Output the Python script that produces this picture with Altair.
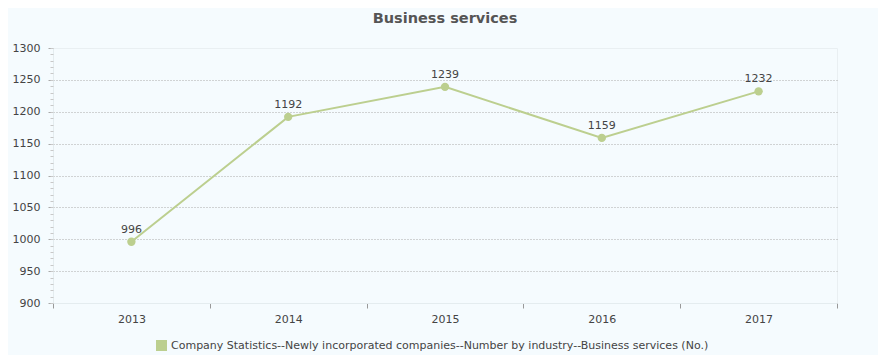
import altair as alt
import pandas as pd

years = ["2013", "2014", "2015", "2016", "2017"]
values = [996, 1192, 1239, 1159, 1232]
series = "Company Statistics--Newly incorporated companies--Number by industry--Business services (No.)"
major_ticks = [900, 950, 1000, 1050, 1100, 1150, 1200, 1250, 1300]
minor_ticks = list(range(900, 1301, 10))

df = pd.DataFrame({"year": years, "value": values, "series": [series] * len(years)})

GREEN = "#bccf8f"
FONT = "DejaVu Sans"

x = alt.X("year:N", title=None,
          scale=alt.Scale(type="band", paddingInner=0, paddingOuter=0),
          axis=alt.Axis(labelAngle=0, tickBand="extent", tickSize=5, tickColor="#999999",
                        domainColor="#e4ecef", labelColor="#444444", labelFontSize=11,
                        labelFont=FONT, labelPadding=5, grid=False))

yscale = alt.Scale(domain=[900, 1300], nice=False, zero=False)

y_main = alt.Y("value:Q", title=None, scale=yscale,
               axis=alt.Axis(values=major_ticks, format="d", tickSize=5, tickColor="#aaaaaa",
                             domainColor="#e4ecef", labelColor="#444444", labelFontSize=11,
                             labelFont=FONT, labelPadding=8, orient="left",
                             grid=True, gridColor="#aaaaaa", gridDash=[1, 2], gridWidth=1,
                             gridOpacity={"condition": {"test": "datum.value == 900 || datum.value == 1300", "value": 0}, "value": 1}))

y_minor = alt.Y("value:Q", title=None, scale=yscale,
                axis=alt.Axis(values=minor_ticks, tickSize=3, tickColor="#c8c8c8",
                              labels=False, domain=False, grid=False, orient="left"))

line = alt.Chart(df).mark_line(color=GREEN, strokeWidth=2).encode(x=x, y=y_main)

points = alt.Chart(df).mark_point(filled=True, opacity=1, size=70).encode(
    x=x, y=y_minor,
    color=alt.Color("series:N", scale=alt.Scale(range=[GREEN]),
                    legend=alt.Legend(title=None, orient="none", legendX=103, legendY=292,
                                      symbolType="square", symbolSize=121, symbolStrokeWidth=0,
                                      labelFontSize=11, labelFont=FONT, labelColor="#444444",
                                      labelLimit=800, symbolOpacity=1)),
)

labels = alt.Chart(df).mark_text(dy=-12, fontSize=11, font=FONT, color="#444444").encode(
    x=x, y=alt.Y("value:Q", scale=yscale, axis=None), text="value:Q")

chart = alt.layer(line, points, labels).resolve_axis(y="independent").properties(
    width=784, height=255,
    background="#f5fbfe",
    padding={"left": 4, "top": 2, "right": 40, "bottom": 4},
    title=alt.TitleParams("Business services", fontSize=14.5, font=FONT, fontWeight="bold",
                          color="#555555", anchor="middle", offset=16),
).configure_view(stroke="#e9eff2", strokeWidth=1)

chart.save("out.html", embed_options={"renderer": "svg", "actions": False})
